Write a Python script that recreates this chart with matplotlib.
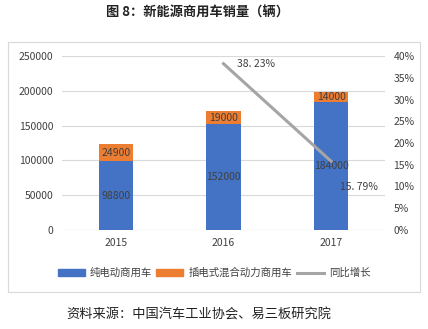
import matplotlib.pyplot as plt
from matplotlib.patches import Rectangle
from matplotlib.lines import Line2D

plt.rcParams['font.family'] = ['Noto Sans CJK SC', 'DejaVu Sans']

years = ['2015', '2016', '2017']
bev = [98800, 152000, 184000]
phev = [24900, 19000, 14000]
growth_years = [1, 2]
growth = [0.3823, 0.1579]
growth_labels = ['38. 23%', '15. 79%']

BLUE = '#4472C4'
ORANGE = '#ED7D31'
GRAY = '#A5A5A5'
TXT = '#404040'

fig = plt.figure(figsize=(4.28, 3.29), dpi=100)
fig.patch.set_facecolor('white')

# outer chart frame
fig.patches.append(Rectangle((8 / 428, 1 - 292 / 329), 412 / 428, 250 / 329,
                             transform=fig.transFigure, fill=False,
                             edgecolor='#D9D9D9', linewidth=0.8))

ax = fig.add_axes([62 / 428, 1 - 230 / 329, 323 / 428, 174 / 329])
x = range(len(years))
w = 0.32
ax.bar(x, bev, w, color=BLUE, zorder=2)
ax.bar(x, phev, w, bottom=bev, color=ORANGE, zorder=2)
for i in x:
    ax.text(i, bev[i] / 2, str(bev[i]), ha='center', va='center', fontsize=7.5, color=TXT, zorder=5)
    ax.text(i, bev[i] + phev[i] / 2, str(phev[i]), ha='center', va='center', fontsize=7.5, color=TXT, zorder=5)

ax.set_xlim(-0.5, 2.5)
ax.set_ylim(0, 250000)
ax.set_yticks(range(0, 250001, 50000))
ax.set_xticks(list(x))
ax.set_xticklabels(years)
ax.grid(axis='y', color='#D9D9D9', linewidth=0.8, zorder=0)
for s in ax.spines.values():
    s.set_visible(False)
ax.axhline(0, color='#D9D9D9', linewidth=0.8, zorder=1)
ax.tick_params(length=0, labelsize=7.5, labelcolor=TXT, pad=6)

ax2 = ax.twinx()
ax2.plot(growth_years, growth, color=GRAY, linewidth=2.2, zorder=3)
ax2.text(growth_years[0] + 0.13, growth[0], growth_labels[0], ha='left', va='center', fontsize=7.5, color=TXT)
ax2.text(growth_years[1] + 0.08, growth[1] - 0.058, growth_labels[1], ha='left', va='center', fontsize=7.5, color=TXT)
ax2.set_ylim(0, 0.4)
ax2.set_yticks([i * 0.05 for i in range(9)])
ax2.set_yticklabels([f'{i * 5}%' for i in range(9)])
for s in ax2.spines.values():
    s.set_visible(False)
ax2.tick_params(length=0, labelsize=7.5, labelcolor=TXT, pad=6)

handles = [Rectangle((0, 0), 1, 1, color=BLUE),
           Rectangle((0, 0), 1, 1, color=ORANGE),
           Line2D([0], [0], color=GRAY, linewidth=2.2)]
fig.legend(handles, ['纯电动商用车', '插电式混合动力商用车', '同比增长'],
           loc='center', bbox_to_anchor=(214 / 428, 1 - 273 / 329), ncol=3,
           frameon=False, fontsize=7.5, handlelength=2.6, handleheight=0.6,
           columnspacing=0.4, handletextpad=0.5, labelcolor=TXT)

fig.text(197 / 428, 1 - 13 / 329, '图 8：新能源商用车销量（辆）', ha='center', va='center',
         fontsize=9.5, fontweight='bold', color='#222222')
fig.text(199 / 428, 1 - 315 / 329, '资料来源：中国汽车工业协会、易三板研究院', ha='center', va='center',
         fontsize=9.5, color='#222222')

fig.savefig('out.png', dpi=100)
